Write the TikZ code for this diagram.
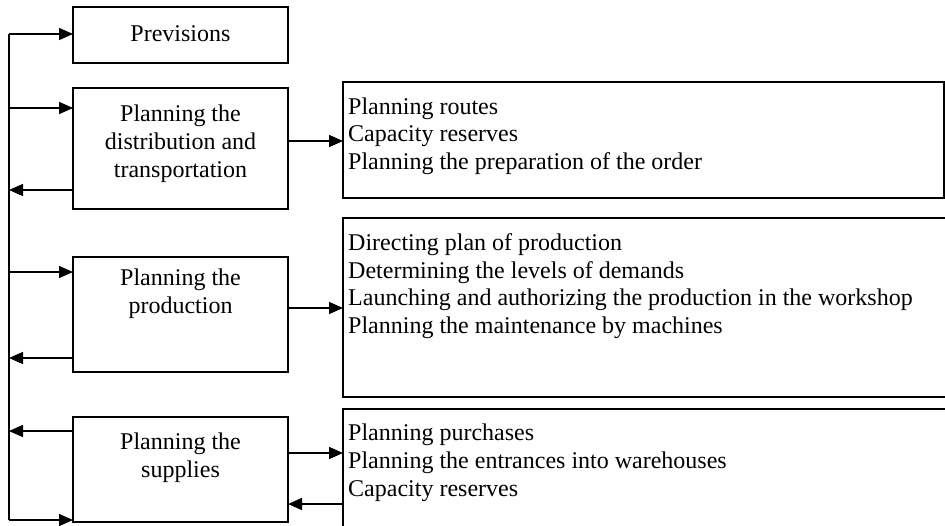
\documentclass[tikz,border=0pt]{standalone}
\usepackage{fontspec}
\setmainfont{Liberation Serif}
\usetikzlibrary{arrows.meta}
\begin{document}
\begin{tikzpicture}[x=1pt,y=-1pt,
  frame/.style={draw, line width=1.5pt, inner sep=0pt, outer sep=0pt, anchor=north west},
  boxtext/.style={align=center, inner sep=0pt, font=\fontsize{24}{28}\selectfont},
  listtext/.style={align=left, inner sep=0pt, anchor=north west, font=\fontsize{24}{27.6}\selectfont},
  wire/.style={line width=1.5pt},
  flow/.style={line width=1.5pt, -{Triangle[length=14pt,width=12pt]}}]
\useasboundingbox (0,0) rectangle (945,525);
\clip (0,0) rectangle (945,525);

% planning boxes on the left
\node[frame, minimum width=215pt, minimum height=56pt]  (prev) at (73,7)   {};
\node[frame, minimum width=215pt, minimum height=121pt] (dist) at (73,88)  {};
\node[frame, minimum width=215pt, minimum height=115pt] (prod) at (73,257) {};
\node[frame, minimum width=215pt, minimum height=105pt] (supp) at (73,417) {};

\node[boxtext] (prevtext) at (180.5,34)  {Previsions};
\node[boxtext] (disttext) at (180.5,144) {Planning the\\distribution and\\transportation};
\node[boxtext] (prodtext) at (180.5,294) {Planning the\\production};
\node[boxtext] (supptext) at (180.5,458) {Planning the\\supplies};

% task boxes on the right (the lower two run past the page edge)
\node[frame, minimum width=601pt, minimum height=116pt] (tasksA) at (343,82)  {};
\node[frame, minimum width=640pt, minimum height=179pt] (tasksB) at (343,218) {};
\node[frame, minimum width=640pt, minimum height=140pt] (tasksC) at (343,409) {};

\node[listtext] (listA) at (348,97.5)  {Planning routes\\Capacity reserves\\Planning the preparation of the order};
\node[listtext] (listB) at (348,233.5) {Directing plan of production\\Determining the levels of demands\\Launching and authorizing the production in the workshop\\Planning the maintenance by machines};
\node[listtext] (listC) at (348,424) {Planning purchases\\Planning the entrances into warehouses\\Capacity reserves};

% feedback bus on the left
\coordinate (bustop) at (9,34);
\coordinate (busbot) at (9,520);
\draw[wire] (bustop) -- (busbot);

\coordinate (inD)  at (9,108);
\coordinate (outD) at (9,190);
\coordinate (inP)  at (9,272);
\coordinate (outP) at (9,358);
\coordinate (outS) at (9,431);

\draw[flow] (bustop) -- (bustop -| prev.west);
\draw[flow] (inD) -- (inD -| dist.west);
\draw[flow] (outD -| dist.west) -- (outD);
\draw[flow] (inP) -- (inP -| prod.west);
\draw[flow] (outP -| prod.west) -- (outP);
\draw[flow] (outS -| supp.west) -- (outS);
\draw[flow] (busbot) -- (busbot -| supp.west);

% links to the task boxes
\coordinate (linkA)  at (0,141);
\coordinate (linkB)  at (0,308);
\coordinate (linkC)  at (0,453);
\coordinate (backC)  at (0,504);

\draw[flow] (linkA -| dist.east) -- (linkA -| tasksA.west);
\draw[flow] (linkB -| prod.east) -- (linkB -| tasksB.west);
\draw[flow] (linkC -| supp.east) -- (linkC -| tasksC.west);
\draw[flow] (backC -| tasksC.west) -- (backC -| supp.east);
\end{tikzpicture}
\end{document}
